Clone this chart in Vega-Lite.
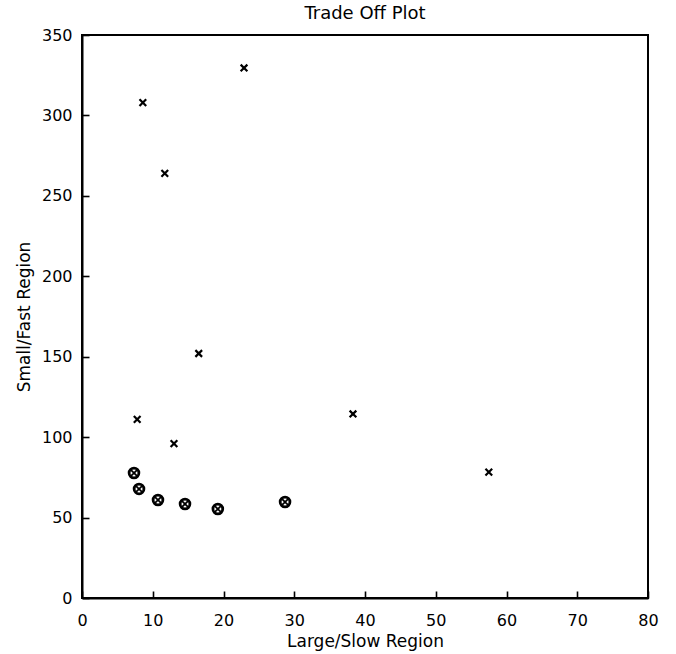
{
  "$schema": "https://vega.github.io/schema/vega-lite/v6.json",
  "width": 566,
  "height": 563,
  "autosize": {"type": "none"},
  "padding": {"left": 82, "top": 35, "right": 28, "bottom": 56},
  "background": "white",
  "title": {"text": "Trade Off Plot", "font": "DejaVu Sans", "fontSize": 18, "fontWeight": "normal", "color": "black", "offset": 4},
  "config": {
    "view": {"stroke": "black", "strokeWidth": 2},
    "axis": {
      "grid": false,
      "labelFlush": false,
      "labelColor": "black",
      "labelFont": "DejaVu Sans",
      "labelFontSize": 16,
      "titleFont": "DejaVu Sans",
      "titleFontSize": 17,
      "titleFontWeight": "normal",
      "titleColor": "black"
    }
  },
  "data": {
    "values": [
      {"x": 8.6, "y": 308, "kind": "cross"},
      {"x": 11.7, "y": 264, "kind": "cross"},
      {"x": 22.9, "y": 329.5, "kind": "cross"},
      {"x": 16.5, "y": 152, "kind": "cross"},
      {"x": 7.8, "y": 111, "kind": "cross"},
      {"x": 13.0, "y": 96, "kind": "cross"},
      {"x": 38.3, "y": 114.4, "kind": "cross"},
      {"x": 57.5, "y": 78.3, "kind": "cross"},
      {"x": 7.35, "y": 77.7, "kind": "circle"},
      {"x": 8.06, "y": 67.8, "kind": "circle"},
      {"x": 10.74, "y": 60.9, "kind": "circle"},
      {"x": 14.56, "y": 58.4, "kind": "circle"},
      {"x": 19.2, "y": 55.3, "kind": "circle"},
      {"x": 28.7, "y": 59.7, "kind": "circle"}
    ]
  },
  "encoding": {
    "x": {
      "field": "x", "type": "quantitative",
      "scale": {"domain": [0, 80], "nice": false, "zero": false},
      "axis": {"values": [0, 10, 20, 30, 40, 50, 60, 70, 80], "title": "Large/Slow Region", "domainColor": "black", "domainWidth": 2, "tickSize": -7, "tickColor": "black", "tickWidth": 1.6, "labelPadding": 21, "titlePadding": 5}
    },
    "y": {
      "field": "y", "type": "quantitative",
      "scale": {"domain": [0, 350], "nice": false, "zero": false},
      "axis": {"values": [0, 50, 100, 150, 200, 250, 300, 350], "title": "Small/Fast Region", "domainColor": "black", "domainWidth": 2, "tickSize": -7, "tickColor": "black", "tickWidth": 1.6, "labelPadding": 17, "titlePadding": 8}
    }
  },
  "layer": [
    {
      "transform": [{"filter": "datum.kind === 'cross'"}],
      "mark": {"type": "point", "shape": "M-1,-1L1,1M-1,1L1,-1", "filled": false, "stroke": "black", "strokeWidth": 2.2, "size": 45, "opacity": 1}
    },
    {
      "transform": [{"filter": "datum.kind === 'circle'"}],
      "mark": {"type": "point", "shape": "circle", "filled": false, "stroke": "black", "strokeWidth": 2.8, "size": 95, "opacity": 1}
    },
    {
      "transform": [{"filter": "datum.kind === 'circle'"}],
      "mark": {"type": "point", "shape": "M-1,-1L1,1M-1,1L1,-1", "filled": false, "stroke": "black", "strokeWidth": 1.8, "size": 34, "opacity": 1}
    }
  ]
}
